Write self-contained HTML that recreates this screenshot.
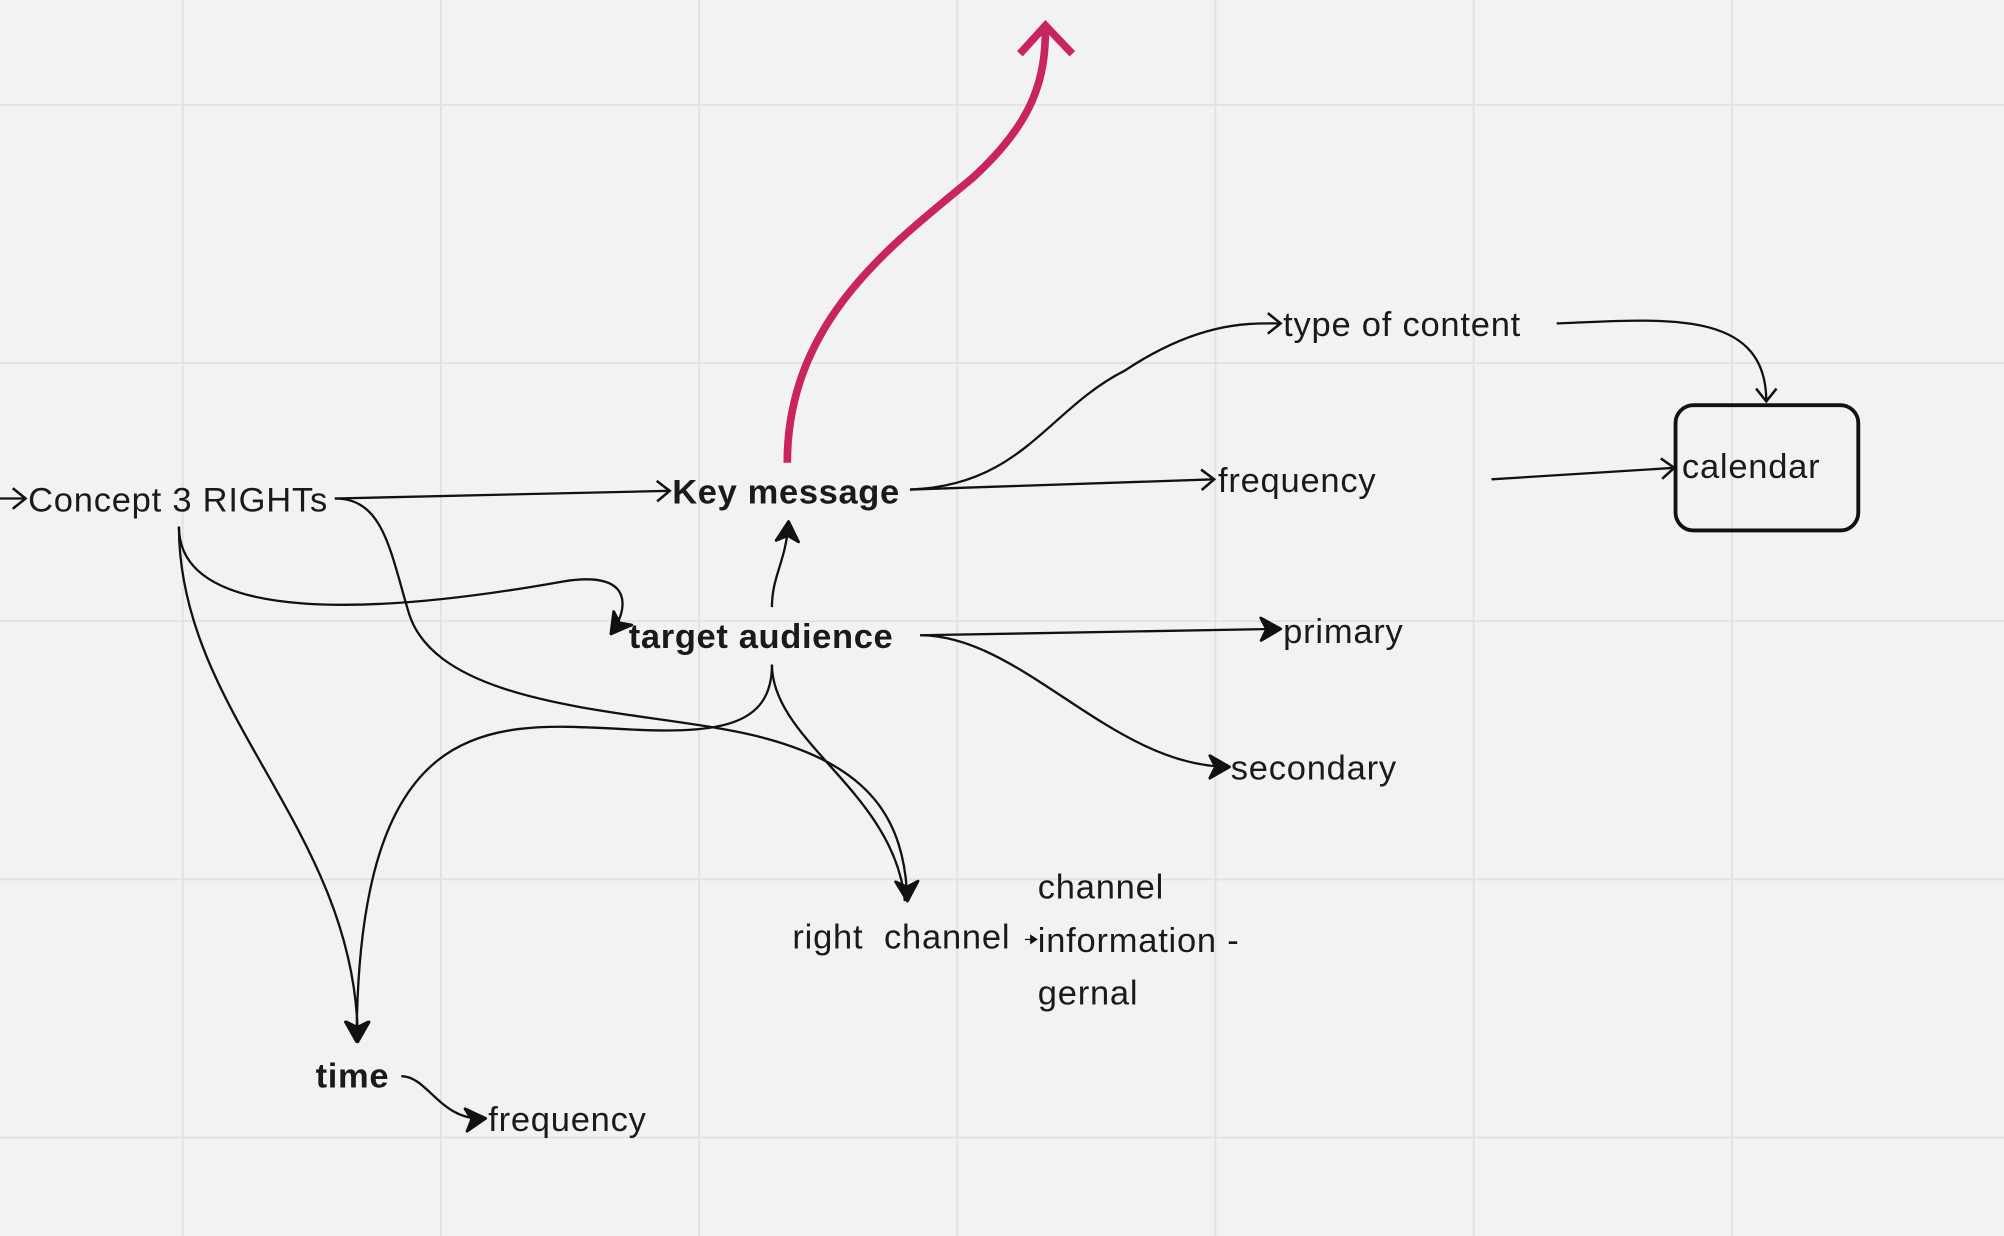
<!DOCTYPE html>
<html><head><meta charset="utf-8"><style>
html,body{margin:0;padding:0;background:#f2f2f2;overflow:hidden}
svg{display:block}
text{font-family:"Liberation Sans",sans-serif;font-size:27px;fill:#1a1a1a;letter-spacing:0.6px}
.b{font-weight:bold;letter-spacing:0.5px}
</style></head><body>
<svg width="2004" height="1236" viewBox="0 0 1568 967" xmlns="http://www.w3.org/2000/svg">
<defs>
<marker id="o" viewBox="0 0 20 20" refX="18" refY="10" markerWidth="20" markerHeight="20" markerUnits="userSpaceOnUse" orient="auto"><path d="M8,2 L18,10 L8,18" fill="none" stroke="#111" stroke-width="2"/></marker>
<marker id="f" viewBox="0 0 20 20" refX="18" refY="10" markerWidth="22" markerHeight="22" markerUnits="userSpaceOnUse" orient="auto"><path d="M4,2 L18,10 L4,18 L8,10 Z" fill="#111" stroke="#111" stroke-width="2" stroke-linejoin="round"/></marker>
</defs>
<rect width="1568" height="967" fill="#f2f2f2"/>
<g stroke="#e2e2e2" stroke-width="1.5">
<line x1="143" y1="0" x2="143" y2="967"/><line x1="345" y1="0" x2="345" y2="967"/><line x1="547" y1="0" x2="547" y2="967"/><line x1="749" y1="0" x2="749" y2="967"/><line x1="951" y1="0" x2="951" y2="967"/><line x1="1153" y1="0" x2="1153" y2="967"/><line x1="1355" y1="0" x2="1355" y2="967"/>
<line x1="0" y1="82" x2="1568" y2="82"/><line x1="0" y1="284" x2="1568" y2="284"/><line x1="0" y1="486" x2="1568" y2="486"/><line x1="0" y1="688" x2="1568" y2="688"/><line x1="0" y1="890" x2="1568" y2="890"/>
</g>
<path d="M616,362 C616,250 700,190 760,140 C810,95 818,60 818,22" fill="none" stroke="#c9245f" stroke-width="6"/>
<path d="M798,42 L818,20 L839,42" fill="none" stroke="#c9245f" stroke-width="6"/>
<g fill="none" stroke="#111" stroke-width="1.8">
<path d="M0,390 L20,390" marker-end="url(#o)"/>
<path d="M262,390 L524,384" marker-end="url(#o)"/>
<path d="M262,390 C300,390 305,430 320,480 C345,560 520,555 600,578 C680,600 708,640 710,705" marker-end="url(#f)"/>
<path d="M604,520 C604,580 700,620 708,705"/>
<path d="M140,412 C140,490 300,480 440,455 C500,445 490,480 478,496" marker-end="url(#f)"/>
<path d="M140,412 C140,560 280,650 280,815" marker-end="url(#f)"/>
<path d="M604,520 C604,570 560,575 480,570 C380,565 280,560 279,815" marker-end="url(#f)"/>
<path d="M604,475 C604,450 615,440 617,408" marker-end="url(#f)"/>
<path d="M712,383 C800,380 820,320 880,290 C940,250 980,253 1002,253" marker-end="url(#o)"/>
<path d="M712,383 L950,375" marker-end="url(#o)"/>
<path d="M1218,253 C1300,250 1382,240 1382,314" marker-end="url(#o)"/>
<path d="M1167,375 L1310,366" marker-end="url(#o)"/>
<path d="M720,497 L1002,492" marker-end="url(#f)"/>
<path d="M720,497 C800,497 870,600 962,600" marker-end="url(#f)"/>
<path d="M314,842 C335,842 345,878 380,875" marker-end="url(#f)"/>
<path d="M802,735 L807,735" stroke-width="1"/>
</g>
<path d="M806,731 L812,735 L806,739 Z" fill="#111"/>
<rect x="1311" y="317" width="143" height="98" rx="14" fill="none" stroke="#111" stroke-width="3"/>
<text x="22" y="400">Concept 3 RIGHTs</text>
<text x="526" y="394" class="b">Key message</text>
<text x="492" y="507" class="b">target audience</text>
<text x="1004" y="263">type of content</text>
<text x="953" y="385">frequency</text>
<text x="1316" y="374">calendar</text>
<text x="1004" y="503">primary</text>
<text x="963" y="610">secondary</text>
<text x="620" y="742" xml:space="preserve">right  channel</text>
<text x="812" y="703">channel</text>
<text x="812" y="745">information -</text>
<text x="812" y="786">gernal</text>
<text x="247" y="851" class="b">time</text>
<text x="382" y="885">frequency</text>
</svg>
</body></html>
